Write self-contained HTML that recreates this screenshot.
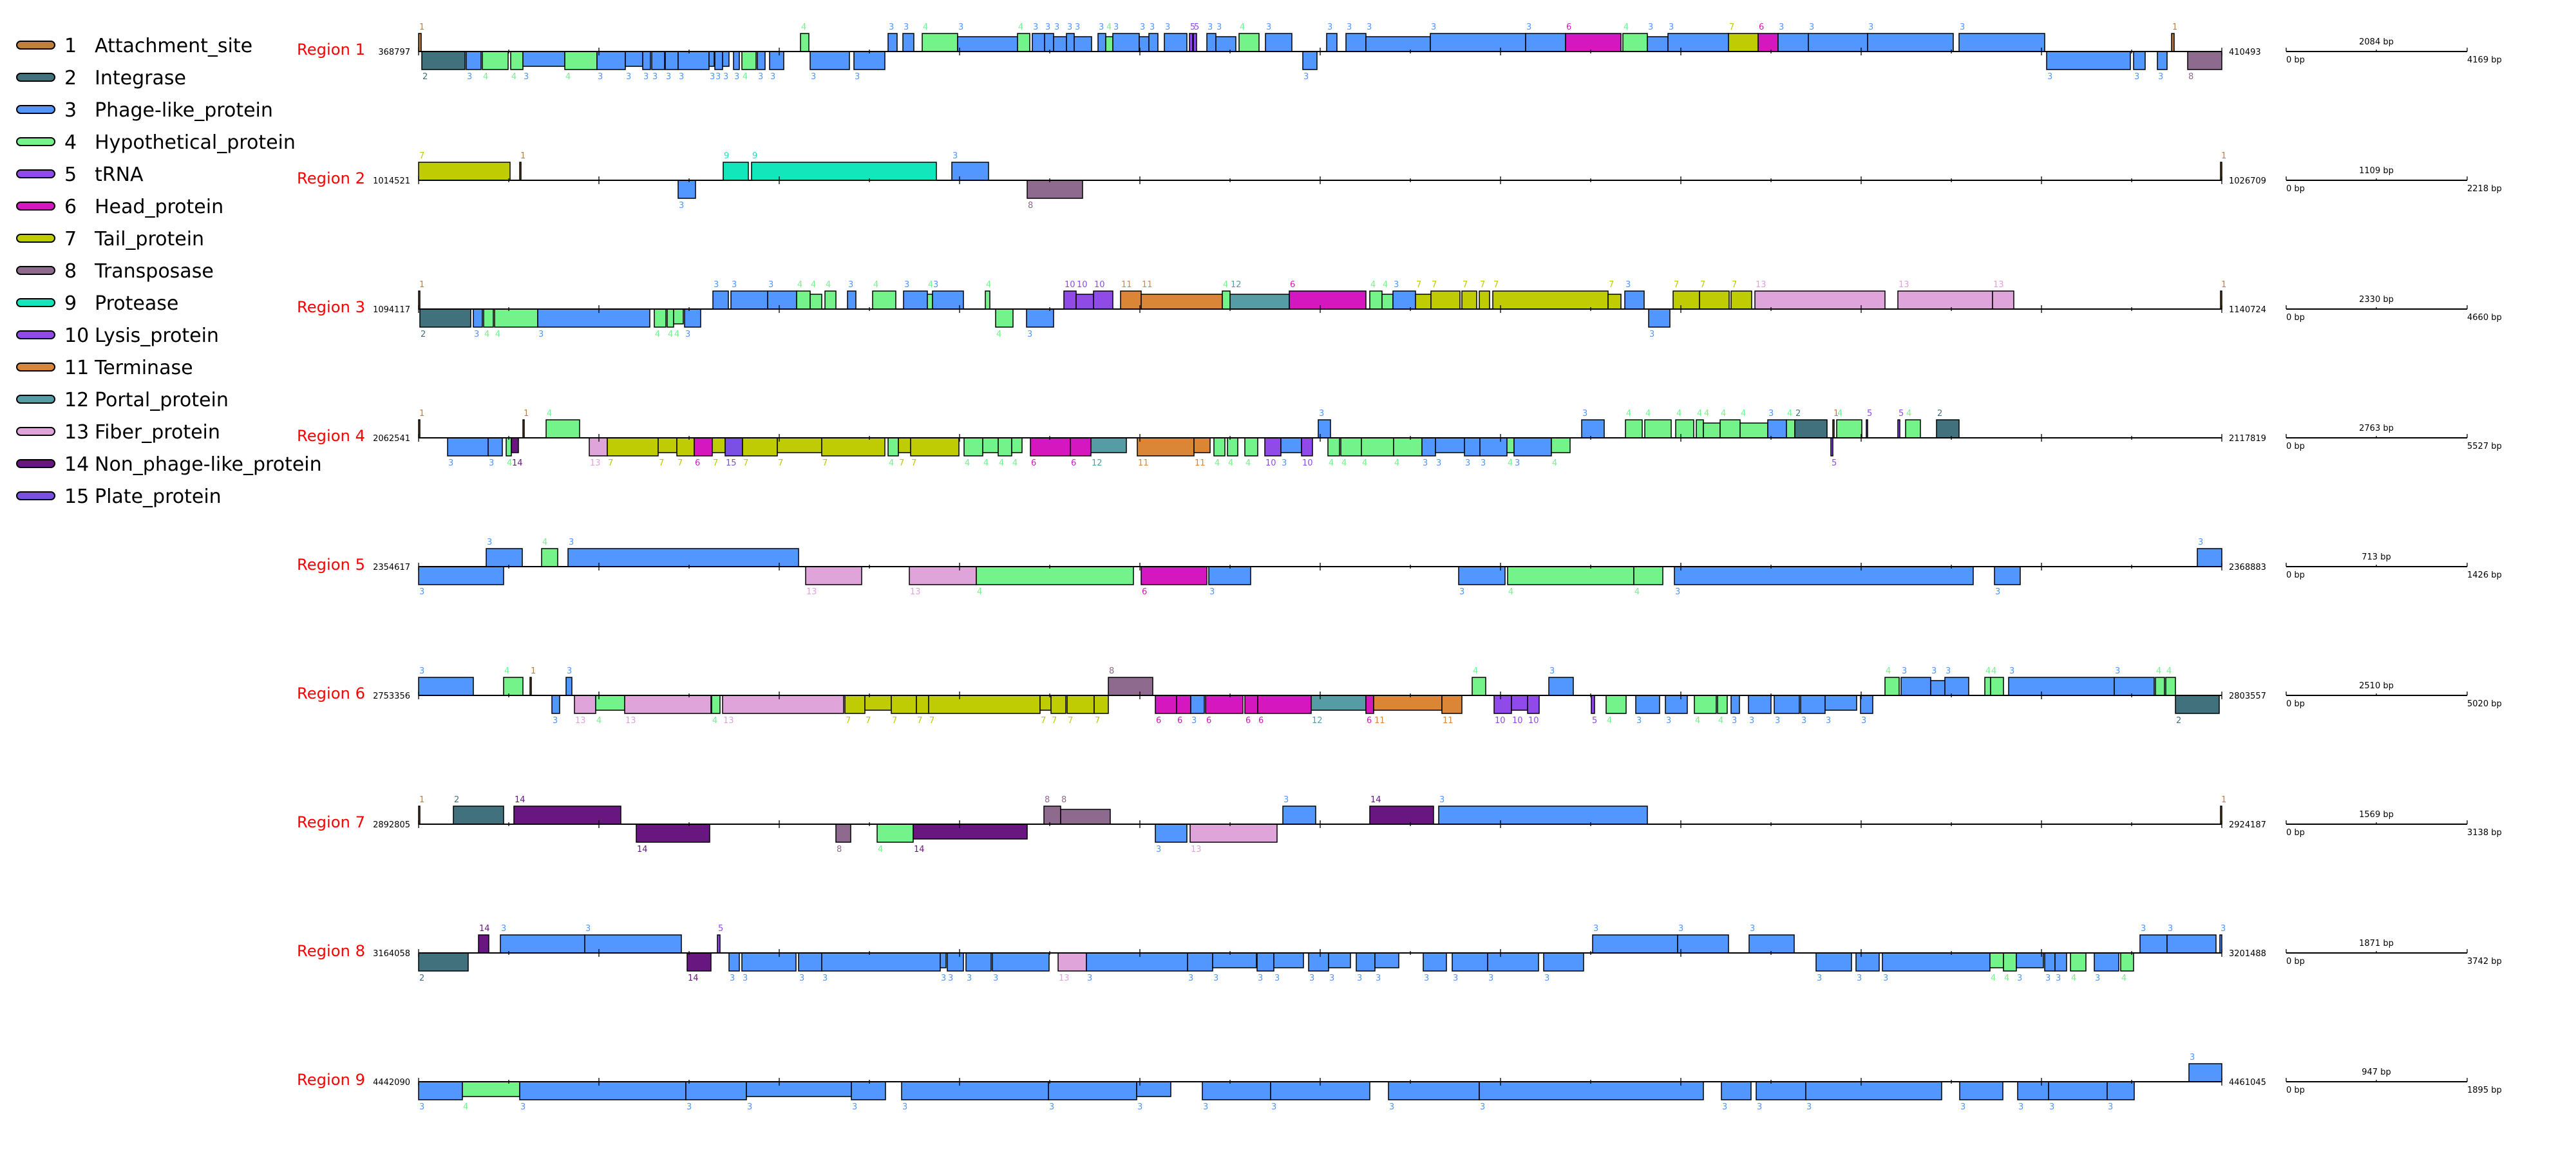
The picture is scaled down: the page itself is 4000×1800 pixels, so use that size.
<!DOCTYPE html>
<html><head><meta charset="utf-8"><title>Prophage regions</title>
<style>
html,body{margin:0;padding:0;background:#fff;}
svg{display:block;font-family:"DejaVu Sans","Liberation Sans",sans-serif;}
</style></head>
<body>
<svg id="chart" xmlns="http://www.w3.org/2000/svg" width="4000" height="1800" viewBox="0 0 4000 1800"></svg>
<script>
// ---- data ----
const typeNames = ["Attachment_site","Integrase","Phage-like_protein","Hypothetical_protein","tRNA","Head_protein","Tail_protein","Transposase","Protease","Lysis_protein","Terminase","Portal_protein","Fiber_protein","Non_phage-like_protein","Plate_protein"];
const typeColors = ["#bf7f3f","#41717d","#5297ff","#75f38b","#8f4ae8","#d417bf","#bfcc04","#8f6a8f","#14e6bc","#8f4ae8","#db8536","#569ca4","#dfa4da","#67177f","#7a4fe3"];
const regionNames = ["Region 1","Region 2","Region 3","Region 4","Region 5","Region 6","Region 7","Region 8","Region 9"];
const regionStarts = ["368797","1014521","1094117","2062541","2354617","2753356","2892805","3164058","4442090"];
const regionEnds = ["410493","1026709","1140724","2117819","2368883","2803557","2924187","3201488","4461045"];
const scaleMid = ["2084 bp","1109 bp","2330 bp","2763 bp","713 bp","2510 bp","1569 bp","1871 bp","947 bp"];
const scaleMax = ["4169 bp","2218 bp","4660 bp","5527 bp","1426 bp","5020 bp","3138 bp","3742 bp","1895 bp"];
// genes: [start, end, type, strand(+1/-1), short(0/1)] ; axis units 0..2800
const r1Genes = [[0,4,1,1,0],[593,606,4,1,0],[729,743,3,1,0],[752,769,3,1,0],[782,837,4,1,0],[837,930,3,1,1],[930,949,4,1,0],[953,972,3,1,0],[972,986,3,1,0],[986,1006,3,1,1],[1006,1018,3,1,0],[1018,1045,3,1,1],[1055,1067,3,1,0],[1067,1078,4,1,1],[1078,1119,3,1,0],[1119,1134,3,1,1],[1134,1148,3,1,0],[1158,1193,3,1,0],[1197,1202,5,1,0],[1203,1208,5,1,0],[1224,1238,3,1,0],[1238,1269,3,1,1],[1274,1305,4,1,0],[1315,1356,3,1,0],[1410,1426,3,1,0],[1440,1471,3,1,0],[1471,1571,3,1,1],[1571,1719,3,1,0],[1719,1781,3,1,0],[1781,1867,6,1,0],[1870,1908,4,1,0],[1908,1940,3,1,1],[1940,2034,3,1,0],[2034,2080,7,1,0],[2080,2111,6,1,0],[2111,2158,3,1,0],[2158,2250,3,1,0],[2250,2383,3,1,0],[2392,2525,3,1,0],[2722,2726,1,1,0],
[5,72,2,-1,0],[74,97,3,-1,0],[99,139,4,-1,0],[143,162,4,-1,0],[162,227,3,-1,1],[227,277,4,-1,0],[277,321,3,-1,0],[321,348,3,-1,1],[348,360,3,-1,0],[362,382,3,-1,0],[383,403,3,-1,0],[403,451,3,-1,0],[451,459,3,-1,1],[460,472,3,-1,0],[472,482,3,-1,1],[489,498,3,-1,0],[502,524,4,-1,0],[526,538,3,-1,0],[545,567,3,-1,0],[608,669,3,-1,0],[676,724,3,-1,0],[1373,1395,3,-1,0],[2528,2658,3,-1,0],[2663,2681,3,-1,0],[2700,2715,3,-1,0],[2747,2800,8,-1,0]];
const r2Genes = [[0,142,7,1,0],[157,159,1,1,0],[473,512,9,1,0],[517,804,9,1,0],[828,885,3,1,0],[2798,2800,1,1,0],[403,430,3,-1,0],[945,1031,8,-1,0]];
const r3Genes = [[0,2,1,1,0],[457,481,3,1,0],[485,542,3,1,0],[542,587,3,1,0],[587,608,4,1,0],[608,626,4,1,1],[631,648,4,1,0],[666,679,3,1,0],[705,741,4,1,0],[753,790,3,1,0],[790,798,4,1,1],[798,846,3,1,0],[880,887,4,1,0],[1002,1021,10,1,0],[1021,1048,10,1,1],[1048,1078,10,1,0],[1090,1122,11,1,0],[1122,1248,11,1,1],[1248,1260,4,1,0],[1260,1352,12,1,1],[1352,1471,6,1,0],[1477,1496,4,1,0],[1496,1513,4,1,1],[1513,1548,3,1,0],[1548,1572,7,1,1],[1572,1617,7,1,0],[1620,1643,7,1,0],[1647,1663,7,1,0],[1668,1847,7,1,0],[1847,1867,7,1,1],[1873,1903,3,1,0],[1948,1989,7,1,0],[1989,2035,7,1,0],[2038,2070,7,1,0],[2075,2277,13,1,0],[2297,2444,13,1,0],[2444,2477,13,1,0],[2798,2800,1,1,0],
[2,81,2,-1,0],[85,99,3,-1,0],[101,116,4,-1,0],[118,185,4,-1,0],[185,359,3,-1,0],[366,384,4,-1,0],[386,396,4,-1,0],[396,411,4,-1,1],[413,438,3,-1,0],[896,923,4,-1,0],[944,986,3,-1,0],[1910,1943,3,-1,0]];
const r4Genes = [[0,2,1,1,0],[162,164,1,1,0],[198,250,4,1,0],[1397,1416,3,1,0],[1806,1841,3,1,0],[1874,1900,4,1,0],[1904,1945,4,1,0],[1952,1980,4,1,0],[1984,1995,4,1,0],[1995,2021,4,1,1],[2021,2052,4,1,0],[2052,2095,4,1,1],[2095,2124,3,1,0],[2124,2137,4,1,0],[2137,2187,2,1,0],[2196,2198,1,1,0],[2202,2241,4,1,0],[2248,2250,5,1,0],[2297,2300,5,1,0],[2309,2332,4,1,0],[2357,2392,2,1,0],
[45,108,3,-1,0],[108,130,3,-1,0],[136,144,4,-1,0],[144,155,14,-1,1],[265,293,13,-1,0],[293,372,7,-1,0],[372,401,7,-1,1],[401,428,7,-1,0],[428,456,6,-1,0],[456,476,7,-1,1],[476,503,15,-1,0],[503,557,7,-1,0],[557,626,7,-1,1],[626,724,7,-1,0],[729,745,4,-1,0],[745,764,7,-1,1],[764,839,7,-1,0],[847,876,4,-1,0],[876,900,4,-1,1],[900,921,4,-1,0],[921,937,4,-1,1],[950,1012,6,-1,0],[1012,1044,6,-1,0],[1044,1099,12,-1,1],[1116,1204,11,-1,0],[1204,1229,11,-1,1],[1235,1252,4,-1,0],[1256,1272,4,-1,0],[1283,1303,4,-1,0],[1314,1339,10,-1,0],[1339,1371,3,-1,1],[1371,1388,10,-1,0],[1412,1430,4,-1,0],[1432,1464,4,-1,0],[1464,1514,4,-1,0],[1514,1558,4,-1,0],[1558,1579,3,-1,0],[1579,1624,3,-1,1],[1624,1648,3,-1,0],[1648,1690,3,-1,0],[1690,1701,4,-1,1],[1701,1759,3,-1,0],[1759,1788,4,-1,1],[2193,2196,5,-1,0]];
const r5Genes = [[105,161,3,1,0],[191,216,4,1,0],[232,590,3,1,0],[2762,2800,3,1,0],[0,132,3,-1,0],[601,688,13,-1,0],[762,866,13,-1,0],[866,1110,4,-1,0],[1122,1224,6,-1,0],[1227,1292,3,-1,0],[1615,1687,3,-1,0],[1691,1887,4,-1,0],[1887,1932,4,-1,0],[1950,2414,3,-1,0],[2447,2487,3,-1,0]];
const r6Genes = [[0,85,3,1,0],[132,162,4,1,0],[173,175,1,1,0],[229,238,3,1,0],[1071,1140,8,1,0],[1636,1657,4,1,0],[1755,1793,3,1,0],[2277,2299,4,1,0],[2302,2348,3,1,0],[2348,2370,3,1,1],[2370,2407,3,1,0],[2432,2441,4,1,0],[2441,2461,4,1,0],[2469,2633,3,1,0],[2633,2695,3,1,0],[2697,2711,4,1,0],[2713,2728,4,1,0],
[207,219,3,-1,0],[242,275,13,-1,0],[275,320,4,-1,1],[320,454,13,-1,0],[455,468,4,-1,0],[472,660,13,-1,0],[662,693,7,-1,0],[693,734,7,-1,1],[734,773,7,-1,0],[773,792,7,-1,0],[792,965,7,-1,0],[965,982,7,-1,1],[982,1005,7,-1,0],[1007,1049,7,-1,0],[1049,1071,7,-1,0],[1144,1177,6,-1,0],[1177,1199,6,-1,0],[1199,1220,3,-1,0],[1222,1280,6,-1,0],[1283,1303,6,-1,0],[1303,1386,6,-1,0],[1386,1471,12,-1,1],[1471,1483,6,-1,0],[1483,1589,11,-1,1],[1589,1620,11,-1,0],[1670,1697,10,-1,0],[1697,1722,10,-1,1],[1722,1740,10,-1,0],[1821,1826,5,-1,0],[1844,1875,4,-1,0],[1890,1927,3,-1,0],[1936,1970,3,-1,0],[1981,2015,4,-1,0],[2017,2032,4,-1,0],[2038,2051,3,-1,0],[2065,2100,3,-1,0],[2105,2144,3,-1,0],[2146,2184,3,-1,0],[2184,2233,3,-1,1],[2239,2258,3,-1,0],[2728,2796,2,-1,0]];
const r7Genes = [[0,2,1,1,0],[54,132,2,1,0],[148,314,14,1,0],[971,997,8,1,0],[997,1074,8,1,1],[1342,1393,3,1,0],[1477,1576,14,1,0],[1584,1908,3,1,0],[2798,2800,1,1,0],[338,452,14,-1,0],[648,671,8,-1,0],[712,768,4,-1,0],[768,945,14,-1,1],[1144,1193,3,-1,0],[1198,1333,13,-1,0]];
const r8Genes = [[93,109,14,1,0],[127,258,3,1,0],[258,408,3,1,0],[464,468,5,1,0],[1823,1955,3,1,0],[1955,2034,3,1,0],[2066,2136,3,1,0],[2673,2715,3,1,0],[2715,2791,3,1,0],[2797,2800,3,1,0],
[0,77,2,-1,0],[417,454,14,-1,0],[482,498,3,-1,0],[502,586,3,-1,0],[590,626,3,-1,0],[626,810,3,-1,0],[810,819,3,-1,1],[821,846,3,-1,0],[850,889,3,-1,0],[891,979,3,-1,0],[993,1037,13,-1,0],[1037,1194,3,-1,0],[1194,1233,3,-1,0],[1233,1301,3,-1,1],[1302,1328,3,-1,0],[1328,1374,3,-1,1],[1382,1413,3,-1,0],[1413,1447,3,-1,1],[1456,1485,3,-1,0],[1485,1522,3,-1,1],[1560,1596,3,-1,0],[1605,1660,3,-1,0],[1660,1739,3,-1,0],[1747,1809,3,-1,0],[2170,2225,3,-1,0],[2232,2268,3,-1,0],[2273,2440,3,-1,0],[2440,2461,4,-1,1],[2461,2481,4,-1,0],[2481,2523,3,-1,1],[2525,2541,3,-1,0],[2541,2559,3,-1,0],[2565,2589,4,-1,0],[2602,2640,3,-1,0],[2643,2663,4,-1,0]];
const r9Genes = [[2749,2800,3,1,0],[0,68,3,-1,0],[68,157,4,-1,1],[157,415,3,-1,0],[415,509,3,-1,0],[509,672,3,-1,1],[672,725,3,-1,0],[750,978,3,-1,0],[978,1115,3,-1,0],[1115,1168,3,-1,1],[1217,1323,3,-1,0],[1323,1477,3,-1,0],[1506,1647,3,-1,0],[1647,1995,3,-1,0],[2023,2069,3,-1,0],[2077,2154,3,-1,0],[2154,2365,3,-1,0],[2393,2460,3,-1,0],[2483,2531,3,-1,0],[2531,2622,3,-1,0],[2622,2664,3,-1,0]];
const allGenes = [r1Genes,r2Genes,r3Genes,r4Genes,r5Genes,r6Genes,r7Genes,r8Genes,r9Genes];

// ---- drawing ----
const NS = "http://www.w3.org/2000/svg";
const svg = document.getElementById("chart");
const AX0 = 650, AXW = 2800, DOMAIN = 2800;
const xScale = p => AX0 + p / DOMAIN * AXW;
const yAxis = i => 80 + 200 * i;
function mk(tag, attrs, parent) {
  const e = document.createElementNS(NS, tag);
  for (const k in attrs) e.setAttribute(k, attrs[k]);
  (parent || svg).appendChild(e);
  return e;
}

// legend
typeNames.forEach((n, i) => {
  const g = mk("g", {});
  
  
  const cy = 70 + 50 * i;
  const sw = mk("rect", {x: 26, y: cy - 6, width: 59, height: 12, rx: 6, fill: typeColors[i], stroke: "#000", "stroke-width": 2}, g);
  
  
  const num = mk("text", {x: 100, y: cy + 11, "font-size": 30, fill: "#000"}, g);
  
  
  num.textContent = String(i + 1);
  const t = mk("text", {x: 147, y: cy + 11, "font-size": 30, fill: "#000"}, g);
  
  
  t.textContent = n;
});

allGenes.forEach((genes, ri) => {
  const ay = yAxis(ri);
  const g = mk("g", {});
  
  
  const lab = mk("text", {x: 461, y: ay + 5, "font-size": 24, fill: "#ff0000", textLength: 106, lengthAdjust: "spacingAndGlyphs"}, g);
  
  
  lab.textContent = regionNames[ri];
  const st = mk("text", {x: 637, y: ay + 5, "font-size": 13, "text-anchor": "end", fill: "#000"}, g);
  
  
  st.textContent = regionStarts[ri];
  const en = mk("text", {x: 3461, y: ay + 5, "font-size": 13, fill: "#000"}, g);
  
  
  en.textContent = regionEnds[ri];

  genes.forEach(d => {
    const [s, e, ty, strand, sh] = d;
    const h = sh ? 23 : 28;
    const x0 = xScale(s), x1 = xScale(e);
    const w = Math.max(x1 - x0, 2);
    const y = strand > 0 ? ay - h : ay;
    const r = mk("rect", {x: x0, y: y, width: w, height: h, fill: typeColors[ty - 1], stroke: "#000", "stroke-width": 1.5}, g);
    
    
    const t = mk("text", {x: x0 + 1, y: strand > 0 ? ay - 34 : ay + 43, "font-size": 13, fill: typeColors[ty - 1]}, g);
    
    
    t.textContent = ty;
  });

  const ax = mk("line", {x1: AX0, y1: ay, x2: AX0 + AXW, y2: ay, stroke: "#000", "stroke-width": 2}, g);
  
  
  for (let k = 0; k <= 20; k++) {
    const tx = AX0 + 140 * k;
    const L = k % 2 === 0 ? 6 : 3;
    const tk = mk("line", {x1: tx, y1: ay - L, x2: tx, y2: ay + L, stroke: "#000", "stroke-width": 1.3}, g);
    
    
  }
  const sb = mk("g", {}, g);
  
  
  mk("line", {x1: 3550, y1: ay, x2: 3831, y2: ay, stroke: "#000", "stroke-width": 2}, sb);
  mk("line", {x1: 3550, y1: ay - 6, x2: 3550, y2: ay, stroke: "#000", "stroke-width": 1.3}, sb);
  mk("line", {x1: 3831, y1: ay - 6, x2: 3831, y2: ay, stroke: "#000", "stroke-width": 1.3}, sb);
  mk("line", {x1: 3690, y1: ay - 3, x2: 3690, y2: ay, stroke: "#000", "stroke-width": 1.3}, sb);
  const m = mk("text", {x: 3690, y: ay - 11, "font-size": 13, "text-anchor": "middle", fill: "#000"}, sb);
  
  
  m.textContent = scaleMid[ri];
  const z = mk("text", {x: 3550, y: ay + 17, "font-size": 13, fill: "#000"}, sb);
  
  
  z.textContent = "0 bp";
  const mx = mk("text", {x: 3831, y: ay + 17, "font-size": 13, fill: "#000"}, sb);
  
  
  mx.textContent = scaleMax[ri];
});
</script>
</body></html>
